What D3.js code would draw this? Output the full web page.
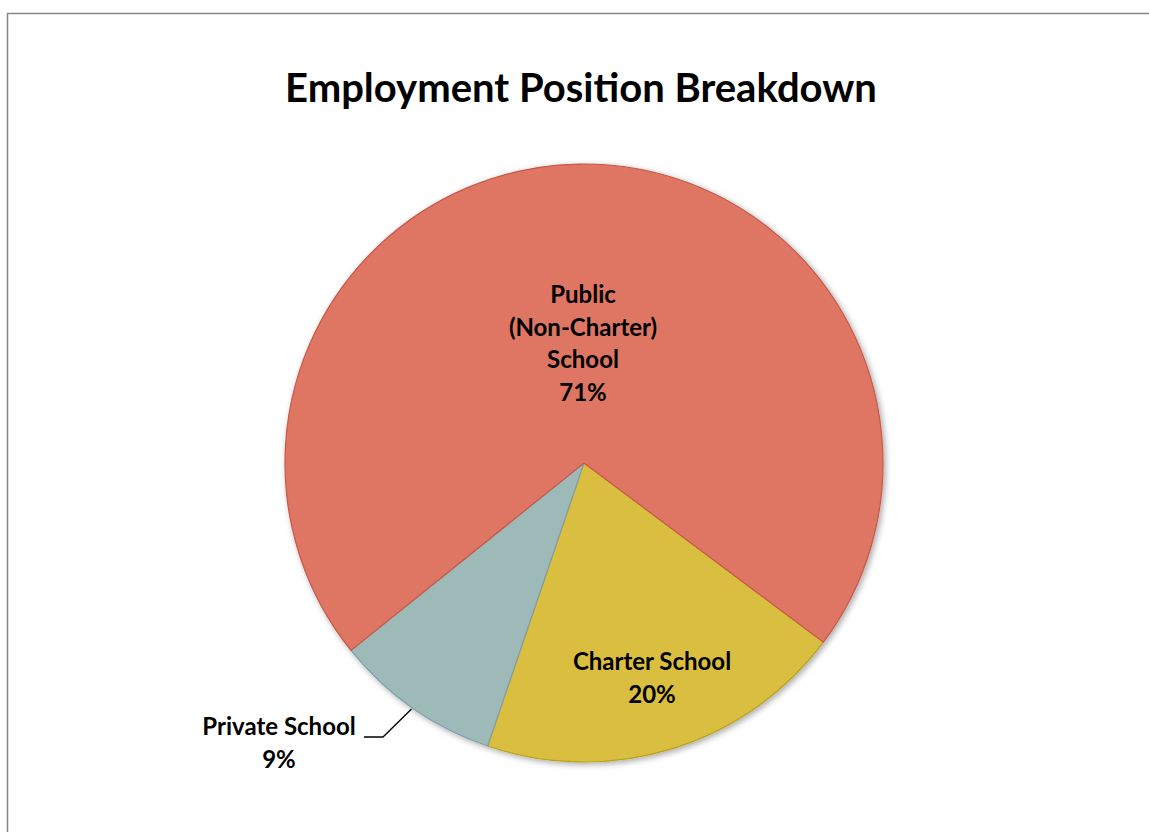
<!DOCTYPE html>
<html><head><meta charset="utf-8">
<script src="https://cdn.jsdelivr.net/npm/d3@7"></script>
<style>body{margin:0;background:#fff}svg{display:block}</style>
</head><body><svg id="c" width="1149" height="832"></svg>
<script>
const categories = ["Charter School", "Private School", "Public (Non-Charter) School"];
const values = [20, 9, 71];
const labelLines = [["Charter School", "20%"], ["Private School", "9%"], ["Public", "(Non-Charter)", "School", "71%"]];
const fills = ["#D9BE40", "#9DB9B8", "#DE7664"];
const strokes = ["#B9A21A", "#7E9FAE", "#C9584A"];
const title = "Employment Position Breakdown";

const svg = d3.select("#c");
const font = "Lato, 'Open Sans', sans-serif";
svg.append("rect").attr("x", 7.5).attr("y", 13.5).attr("width", 1160).attr("height", 840)
  .attr("fill", "#fff").attr("stroke", "#868686").attr("stroke-width", 1.5);

svg.append("text").attr("x", 581).attr("y", 102).attr("text-anchor", "middle")
  .attr("font-family", font).attr("font-weight", "bold").attr("font-size", 40).attr("fill", "#000")
  .text(title);

const cx = 584, cy = 463, r = 299;
const defs = svg.append("defs");
const f = defs.append("filter").attr("id", "sh").attr("x", "-10%").attr("y", "-10%").attr("width", "120%").attr("height", "120%");
f.append("feGaussianBlur").attr("in", "SourceAlpha").attr("stdDeviation", 3);
f.append("feOffset").attr("dx", 2).attr("dy", 2).attr("result", "b");
f.append("feComponentTransfer").append("feFuncA").attr("type", "linear").attr("slope", 0.35);
const m = f.append("feMerge"); m.append("feMergeNode"); m.append("feMergeNode").attr("in", "SourceGraphic");

const start = 126.8 * Math.PI / 180;
const pie = d3.pie().sort(null).value(d => d).startAngle(start).endAngle(start + 2 * Math.PI);
const arcs = pie(values);
const arc = d3.arc().innerRadius(0).outerRadius(r);
const g = svg.append("g").attr("transform", `translate(${cx},${cy})`);
g.append("g").attr("filter", "url(#sh)").selectAll("path").data(arcs).join("path")
  .attr("d", arc).attr("fill", (d, i) => fills[i]).attr("stroke", (d, i) => strokes[i]).attr("stroke-width", 1.2);

// label positions (relative to centre)
const labelPos = [[68, 207], [-305, 272], [-1, -160]];
const lh = 32.7;
arcs.forEach((d, i) => {
  const lines = labelLines[i];
  const [lx, ly] = labelPos[i];
  const t = g.append("text").attr("text-anchor", "middle").attr("font-family", font)
    .attr("font-weight", "bold").attr("font-size", 24).attr("fill", "#000");
  lines.forEach((s, k) => {
    t.append("tspan").attr("x", lx).attr("y", ly + k * lh).text(s);
  });
});
// leader line for Private School
const mid = (arcs[1].startAngle + arcs[1].endAngle) / 2;
const ex = Math.sin(mid) * r, ey = -Math.cos(mid) * r;
g.append("path").attr("d", `M${ex - 1},${ey + 1}L${-201},${274}L${-220},${274}`)
  .attr("fill", "none").attr("stroke", "#000").attr("stroke-width", 1.3);
</script></body></html>
